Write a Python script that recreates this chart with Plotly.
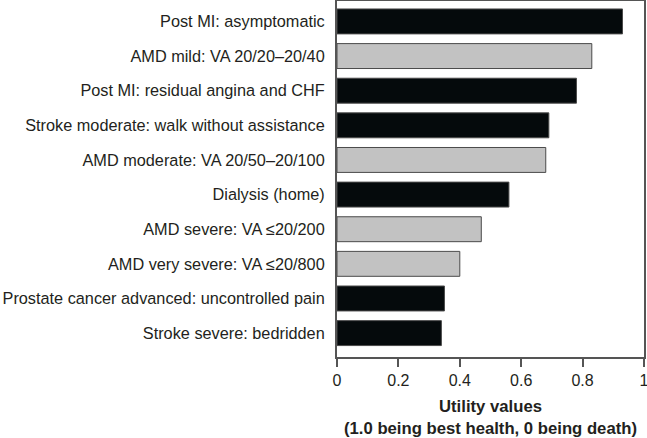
import plotly.graph_objects as go

categories = [
    "Post MI: asymptomatic",
    "AMD mild: VA 20/20–20/40",
    "Post MI: residual angina and CHF",
    "Stroke moderate: walk without assistance",
    "AMD moderate: VA 20/50–20/100",
    "Dialysis (home)",
    "AMD severe: VA ≤20/200",
    "AMD very severe: VA ≤20/800",
    "Prostate cancer advanced: uncontrolled pain",
    "Stroke severe: bedridden",
]
values = [0.93, 0.83, 0.78, 0.69, 0.68, 0.56, 0.47, 0.40, 0.35, 0.34]
is_amd = [False, True, False, False, True, False, True, True, False, False]
x_ticks = [0, 0.2, 0.4, 0.6, 0.8, 1]
x_tick_labels = ["0", "0.2", "0.4", "0.6", "0.8", "1"]

colors = ["#c2c2c2" if a else "#050a0c" for a in is_amd]

fig = go.Figure(go.Bar(
    x=values, y=categories, orientation="h",
    marker=dict(color=colors, line=dict(color="#4a4a4a", width=1)),
    width=0.72,
))

font_family = "Liberation Sans, Arial, sans-serif"
fig.update_layout(
    width=647, height=438,
    margin=dict(l=337, r=3, t=1, b=81),
    paper_bgcolor="white", plot_bgcolor="white",
    showlegend=False,
    font=dict(family=font_family, size=16.3, color="#231f20"),
)
fig.update_xaxes(
    range=[0, 1], tickvals=x_ticks, ticktext=x_tick_labels,
    ticks="outside", ticklen=8, tickwidth=1.5, tickcolor="#555555",
    showline=True, linecolor="#555555", linewidth=2, mirror=True,
    showgrid=False, zeroline=False, automargin=False,
    ticklabeloverflow="allow",
    tickfont=dict(size=16, color="#231f20"),
    title=dict(text="<b>Utility values<br>(1.0 being best health, 0 being death)</b>",
               font=dict(size=16.7, color="#231f20"), standoff=13),
)
fig.update_yaxes(
    type="category", categoryorder="array", categoryarray=categories,
    range=[9.69, -0.59],
    showline=True, linecolor="#555555", linewidth=2, mirror=True,
    showgrid=False, zeroline=False, ticks="", automargin=False,
    ticklabelstandoff=7,
    tickfont=dict(size=16.3, color="#231f20"),
)

fig.write_html(
    "out.html",
    config={"displayModeBar": False},
    post_script="document.body.style.margin='0';document.body.style.overflow='hidden';",
)
